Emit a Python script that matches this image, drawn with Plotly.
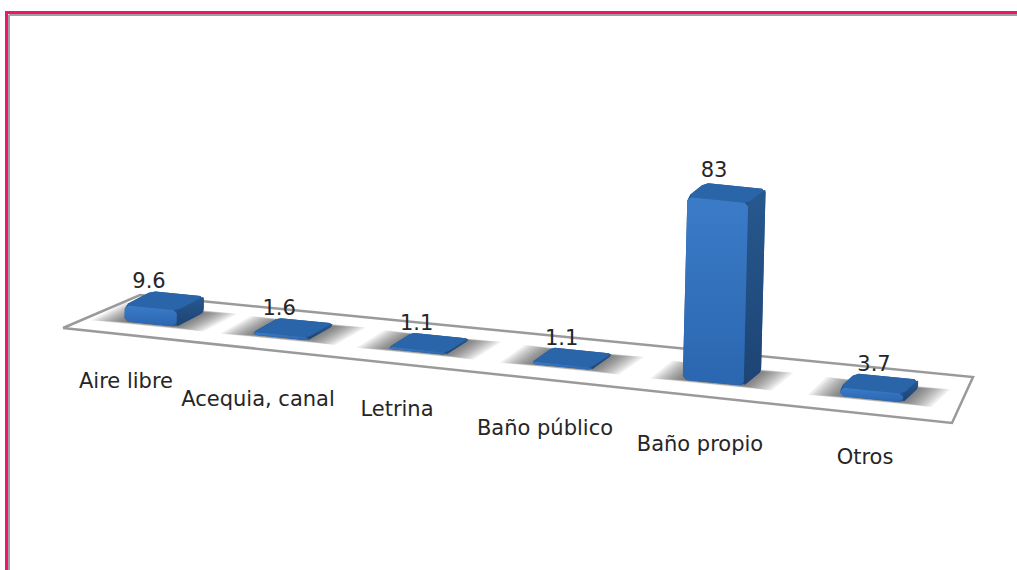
import plotly.graph_objects as go

categories = ["Aire libre", "Acequia, canal", "Letrina", "Baño público", "Baño propio", "Otros"]
values = [9.6, 1.6, 1.1, 1.1, 83, 3.7]
value_labels = ["9.6", "1.6", "1.1", "1.1", "83", "3.7"]

label_x = [126, 258, 397, 545, 700, 865]
label_y = [383, 401, 411, 430, 446, 459]
TEXT = "#262626"
FLOOR = [(63, 328), (140, 295), (973, 377), (952, 423), (63, 328)]


def center(i):
    x = 164 + 125.4 * i + 3.52 * i * i
    return x, 317 + 0.105 * (x - 164)


def height(i, v):
    return v * (1.7 + 0.125 * i)


def footprint(i, grow_w=0.0, grow_d=0.0):
    cx, cy = center(i)
    W = 52 + 2.2 * i + 2 * grow_w
    wx, wy = W, W * 0.1
    dk = 1 + 2 * grow_d / 30
    dx, dy = (27 - 2.4 * i) * dk, -14 * dk
    fl = (cx - wx / 2 - dx / 2, cy - wy / 2 - dy / 2)
    fr = (fl[0] + wx, fl[1] + wy)
    br = (fr[0] + dx, fr[1] + dy)
    bl = (fl[0] + dx, fl[1] + dy)
    return fl, fr, br, bl


def rounded(pts, r):
    out = []
    n = len(pts)
    for k in range(n):
        p, a, b = pts[k], pts[k - 1], pts[(k + 1) % n]
        for q in (a, b):
            L = max(((q[0] - p[0]) ** 2 + (q[1] - p[1]) ** 2) ** 0.5, 1e-6)
            t = min(r / L, 0.45)
            out.append((p[0] + (q[0] - p[0]) * t, p[1] + (q[1] - p[1]) * t))
    out.append(out[0])
    return out


def poly(fig, pts, color=None, gradient=None, opacity=1.0):
    xs = [p[0] for p in pts]
    ys = [p[1] for p in pts]
    kw = dict(x=xs, y=ys, mode="lines", fill="toself", hoverinfo="skip", showlegend=False, opacity=opacity)
    kw["line"] = dict(color="rgba(0,0,0,0)", width=0)
    if gradient:
        kw["fillgradient"] = dict(type="vertical", colorscale=[[0, gradient[0]], [1, gradient[1]]])
    else:
        kw["fillcolor"] = color
    fig.add_trace(go.Scatter(**kw))


fig = go.Figure()

# floor
fig.add_trace(go.Scatter(
    x=[p[0] for p in FLOOR], y=[p[1] for p in FLOOR], mode="lines", fill="toself",
    fillcolor="white", line=dict(color="#9a9a9a", width=2.5), hoverinfo="skip", showlegend=False))

# soft shadows on the floor
for i in range(len(values)):
    for step in range(10):
        g = 30 - step * 3.2
        d = 4 - step * 0.4
        fl, fr, br, bl = footprint(i, g, d)
        poly(fig, [fl, fr, br, bl, fl], color="#303030", opacity=0.085)

# bars
for i, v in enumerate(values):
    h = height(i, v)
    fl, fr, br, bl = footprint(i)
    lean = min(h * 0.025, 5)
    top = lambda p: (p[0] + lean, p[1] - h)
    r = 3.5 if h > 5 else 2.5
    # silhouette under the faces, closes the seams between rounded faces
    poly(fig, rounded([fl, fr, br, top(br), top(bl), top(fl)], r), color="#24538c")
    # right side
    poly(fig, rounded([fr, br, top(br), top(fr)], 1.5), gradient=("#1d4474", "#27588f"))
    # top
    poly(fig, rounded([top(fl), top(fr), top(br), top(bl)], r), color="#2b65a9")
    # front
    poly(fig, rounded([fl, fr, top(fr), top(fl)], r), gradient=("#2b66b0", "#3b7bc8"))

# value labels
fig.add_trace(go.Scatter(
    x=[center(i)[0] - 15 + i + 0.2 * i * i for i in range(len(values))],
    y=[center(i)[1] - height(i, v) - (21 if v > 50 else 18) for i, v in enumerate(values)],
    text=value_labels, mode="text", textposition="middle center",
    textfont=dict(family="DejaVu Sans", size=21, color=TEXT), hoverinfo="skip", showlegend=False))

# category labels
fig.add_trace(go.Scatter(
    x=label_x, y=label_y, text=categories, mode="text", textposition="middle center",
    textfont=dict(family="DejaVu Sans", size=21, color=TEXT), hoverinfo="skip", showlegend=False))

shapes = [
    dict(type="line", xref="x", yref="y", x0=9, y0=15, x1=1017, y1=15, line=dict(color="#a0a0a0", width=2), layer="below"),
    dict(type="line", xref="x", yref="y", x0=9, y0=15, x1=9, y1=570, line=dict(color="#a0a0a0", width=2), layer="below"),
    dict(type="line", xref="x", yref="y", x0=5, y0=12.5, x1=1017, y1=12.5, line=dict(color="#f0146e", width=3)),
    dict(type="line", xref="x", yref="y", x0=6.5, y0=11, x1=6.5, y1=570, line=dict(color="#f0146e", width=3)),
]

fig.update_layout(
    width=1017, height=570, margin=dict(l=0, r=0, t=0, b=0),
    paper_bgcolor="white", plot_bgcolor="white", showlegend=False, shapes=shapes,
    xaxis=dict(range=[0, 1017], visible=False, fixedrange=True),
    yaxis=dict(range=[570, 0], visible=False, fixedrange=True),
)
fig.write_html("out.html", post_script="document.body.style.margin='0';", config={"displayModeBar": False})
